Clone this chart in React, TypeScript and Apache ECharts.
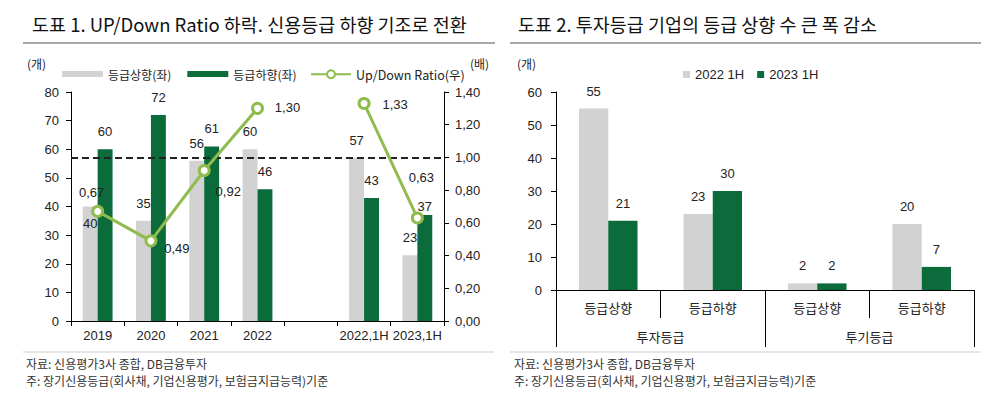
import React, { useEffect, useRef } from "react";
import * as echarts from "echarts";

const FONT = "'Liberation Sans', 'Noto Sans CJK KR', sans-serif";
const KFONT = "'Noto Sans CJK KR', 'Liberation Sans', sans-serif";

// ---- Chart 1 data ----
const periods = ["2019", "2020", "2021", "2022", "", "2022,1H", "2023,1H"];
const upgrades = [40, 35, 56, 60, "-", 57, 23];
const downgrades = [60, 72, 61, 46, "-", 43, 37];
const udRatio = [0.67, 0.49, 0.92, 1.3, "-", 1.33, 0.63];
const ratioLabelOffsets = [[-6, -19], [26, 8], [24, 21], [30, -1], [0, 0], [31, 1], [4, -40]];

// ---- Chart 2 data ----
const gradeTypes = ["등급상향", "등급하향", "등급상향", "등급하향"];
const gradeGroups = ["투자등급", "투기등급"];
const h1of2022 = [55, 23, 2, 20];
const h1of2023 = [21, 30, 2, 7];

const GRAY = "#d2d2d2";
const GREEN = "#0b6b3b";
const LGREEN = "#8fbc4c";
const TXT = "#222";

const fmt2 = (v: number) => v.toFixed(2).replace(".", ",");

const baseLabel = { show: true, position: "top", distance: 11, fontSize: 13, color: TXT, fontFamily: FONT };

const option: any = {
  animation: false,
  backgroundColor: "#fff",
  textStyle: { fontFamily: FONT },
  title: [
    { text: "도표 1. UP/Down Ratio 하락. 신용등급 하향 기조로 전환", left: 32, top: 15, padding: 0,
      textStyle: { fontSize: 18.5, fontWeight: "normal", color: "#111", fontFamily: KFONT } },
    { text: "도표 2. 투자등급 기업의 등급 상향 수 큰 폭 감소", left: 518, top: 15, padding: 0,
      textStyle: { fontSize: 18.5, fontWeight: "normal", color: "#111", fontFamily: KFONT } },
  ],
  legend: [
    { data: ["등급상향(좌)", "등급하향(좌)"], left: 62, top: 68, padding: 0, itemWidth: 41, itemHeight: 6,
      itemGap: 16, icon: "rect", textStyle: { fontSize: 12, color: TXT, fontFamily: KFONT } },
    { data: ["Up/Down Ratio(우)"], left: 310, top: 68, padding: 0, itemWidth: 40, itemHeight: 10,
      textStyle: { fontSize: 12.5, color: TXT, fontFamily: KFONT } },
    { data: ["2022 1H", "2023 1H"], left: 683, top: 68, padding: 0, itemWidth: 7, itemHeight: 7,
      itemGap: 13, icon: "rect", textStyle: { fontSize: 13, color: TXT, fontFamily: FONT } },
  ],
  grid: [
    { left: 71, top: 92, width: 373, height: 229 },
    { left: 556, top: 92, width: 418, height: 198 },
  ],
  xAxis: [
    { type: "category", gridIndex: 0, data: periods,
      axisLine: { lineStyle: { color: "#000" } },
      axisTick: { show: true, length: 5, lineStyle: { color: "#000" } },
      axisLabel: { interval: 0, margin: 8, fontSize: 13, color: TXT, fontFamily: FONT } },
    { type: "category", gridIndex: 1, data: gradeTypes, position: "bottom",
      axisLine: { lineStyle: { color: "#000" } },
      axisTick: { show: true, length: 28, lineStyle: { color: "#000" } },
      axisLabel: { interval: 0, margin: 11, fontSize: 13, color: TXT, fontFamily: KFONT } },
    { type: "category", gridIndex: 1, data: gradeGroups, position: "bottom",
      axisLine: { show: false },
      axisTick: { show: true, length: 57, lineStyle: { color: "#000" } },
      axisLabel: { interval: 0, margin: 40, fontSize: 13, color: TXT, fontFamily: KFONT } },
  ],
  yAxis: [
    { type: "value", gridIndex: 0, min: 0, max: 80, interval: 10,
      axisLine: { show: true, lineStyle: { color: "#000" } },
      axisTick: { show: true, length: 5, lineStyle: { color: "#000" } },
      splitLine: { show: false },
      axisLabel: { margin: 12, fontSize: 13, color: TXT, fontFamily: FONT } },
    { type: "value", gridIndex: 0, position: "right", min: 0, max: 1.4, interval: 0.2,
      axisLine: { show: true, lineStyle: { color: "#000" } },
      axisTick: { show: true, length: 5, lineStyle: { color: "#000" } },
      splitLine: { show: false },
      axisLabel: { margin: 11, fontSize: 13, color: TXT, fontFamily: FONT, formatter: (v: number) => fmt2(v) } },
    { type: "value", gridIndex: 1, min: 0, max: 60, interval: 10,
      axisLine: { show: true, lineStyle: { color: "#000" } },
      axisTick: { show: true, length: 5, lineStyle: { color: "#000" } },
      splitLine: { show: false },
      axisLabel: { margin: 14, fontSize: 13, color: TXT, fontFamily: FONT } },
  ],
  series: [
    { name: "등급상향(좌)", type: "bar", xAxisIndex: 0, yAxisIndex: 0, barGap: "0%", barCategoryGap: "44%",
      itemStyle: { color: GRAY }, label: baseLabel,
      data: upgrades.map((v, i) => (i === 0 ? { value: v, label: { position: "insideTop", distance: 10 } } : v)) },
    { name: "등급하향(좌)", type: "bar", xAxisIndex: 0, yAxisIndex: 0, barGap: "0%", barCategoryGap: "44%",
      itemStyle: { color: GREEN }, label: baseLabel,
      data: downgrades.map((v, i) => (i === downgrades.length - 1 ? { value: v, label: { distance: 2 } } : v)) },
    { name: "Up/Down Ratio(우)", type: "line", xAxisIndex: 0, yAxisIndex: 1, z: 5,
      connectNulls: false, symbol: "circle", symbolSize: 10,
      lineStyle: { color: LGREEN, width: 3 },
      itemStyle: { color: "#fff", borderColor: LGREEN, borderWidth: 3 },
      label: { show: true, position: "inside", fontSize: 13, color: TXT, fontFamily: FONT,
        formatter: (p: any) => fmt2(p.value) },
      data: udRatio.map((v, i) => (v === "-" ? "-" : { value: v, label: { offset: ratioLabelOffsets[i] } })),
      markLine: { silent: true, symbol: "none", label: { show: false },
        lineStyle: { color: "#222", type: [7, 4], width: 2 }, data: [{ yAxis: 1 }] } },
    { name: "2022 1H", type: "bar", xAxisIndex: 1, yAxisIndex: 2, barGap: "0%", barCategoryGap: "44%",
      itemStyle: { color: GRAY }, label: baseLabel, data: h1of2022 },
    { name: "2023 1H", type: "bar", xAxisIndex: 1, yAxisIndex: 2, barGap: "0%", barCategoryGap: "44%",
      itemStyle: { color: GREEN }, label: baseLabel, data: h1of2023 },
  ],
  graphic: [
    { type: "line", shape: { x1: 23, y1: 43, x2: 495, y2: 43 }, style: { stroke: "#a8a8a8", lineWidth: 2 } },
    { type: "line", shape: { x1: 510, y1: 43, x2: 981, y2: 43 }, style: { stroke: "#a8a8a8", lineWidth: 2 } },
    { type: "line", shape: { x1: 23, y1: 352, x2: 494, y2: 352 }, style: { stroke: "#cfcfcf", lineWidth: 1 } },
    { type: "line", shape: { x1: 510, y1: 352, x2: 981, y2: 352 }, style: { stroke: "#cfcfcf", lineWidth: 1 } },
    { type: "text", x: 27, y: 63, style: { text: "(개)", fontSize: 12, fill: TXT, fontFamily: KFONT, verticalAlign: "middle" } },
    { type: "text", x: 470, y: 63, style: { text: "(배)", fontSize: 12, fill: TXT, fontFamily: KFONT, verticalAlign: "middle" } },
    { type: "text", x: 517, y: 63, style: { text: "(개)", fontSize: 12, fill: TXT, fontFamily: KFONT, verticalAlign: "middle" } },
    { type: "text", x: 26, y: 363, style: { text: "자료: 신용평가3사 종합, DB금융투자", fontSize: 12, fill: "#333", fontFamily: KFONT, verticalAlign: "middle" } },
    { type: "text", x: 26, y: 380, style: { text: "주: 장기신용등급(회사채, 기업신용평가, 보험금지급능력)기준", fontSize: 12, fill: "#333", fontFamily: KFONT, verticalAlign: "middle" } },
    { type: "text", x: 514, y: 363, style: { text: "자료: 신용평가3사 종합, DB금융투자", fontSize: 12, fill: "#333", fontFamily: KFONT, verticalAlign: "middle" } },
    { type: "text", x: 514, y: 380, style: { text: "주: 장기신용등급(회사채, 기업신용평가, 보험금지급능력)기준", fontSize: 12, fill: "#333", fontFamily: KFONT, verticalAlign: "middle" } },
  ],
};

export default function App() {
  const ref = useRef<HTMLDivElement>(null);
  useEffect(() => {
    const chart = echarts.init(ref.current!, null, { renderer: "svg" });
    chart.setOption(option);
    return () => chart.dispose();
  }, []);
  return (
    <div style={{ position: "absolute", left: 0, top: 0, width: 1000, height: 395, background: "#fff" }}>
      <div ref={ref} style={{ width: 1000, height: 395 }} />
    </div>
  );
}
